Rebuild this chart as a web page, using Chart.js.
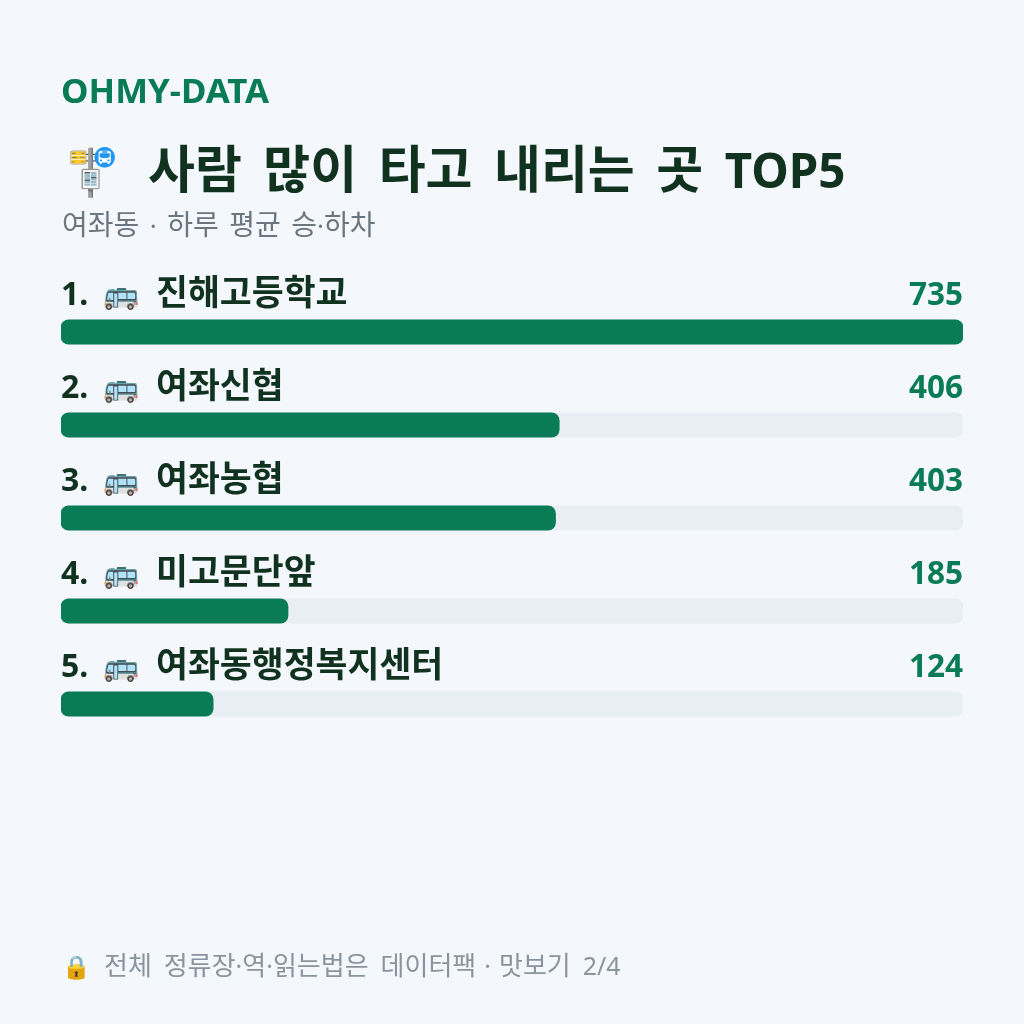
<!DOCTYPE html>
<html><head><meta charset="utf-8">
<script src="https://cdn.jsdelivr.net/npm/chart.js@4"></script>
<style>
html,body{margin:0;padding:0;background:#f4f7fc;}
#wrap{position:absolute;left:0;top:0;width:1024px;height:1024px;}
canvas{display:block;}
</style></head><body>
<div id="wrap"><canvas id="c" width="1024" height="1024"></canvas></div>
<script>
const brand = "OHMY-DATA";
const titleIcon = "🚏";
const title = "사람 많이 타고 내리는 곳 TOP5";
const subtitle = "여좌동 · 하루 평균 승·하차";
const footerIcon = "🔒";
const footer = "전체 정류장·역·읽는법은 데이터팩 · 맛보기 2/4";
const ranks = ["1.","2.","3.","4.","5."];
const rowIcon = "🚌";
const categories = ["진해고등학교","여좌신협","여좌농협","미고문단앞","여좌동행정복지센터"];
const values = [735,406,403,185,124];
const axisMax = 735;

const HANGUL = '"Noto Sans CJK KR",sans-serif';
const LATIN = '"Noto Sans",sans-serif';

// Writes mixed text, giving Hangul and Latin runs their own font size and fixed word gaps.
// A gap that touches a lone middle dot uses dotSpace.
function drawMixed(ctx, text, x, y, o){
  const parts = text.match(/[\uAC00-\uD7A3]+|[^\uAC00-\uD7A3\s]+|\s+/g) || [];
  ctx.textAlign = 'left';
  parts.forEach((p,i)=>{
    if (/^\s+$/.test(p)){
      const byDot = parts[i-1]==='·' || parts[i+1]==='·';
      x += byDot && o.dotSpace ? o.dotSpace : o.space;
      return;
    }
    const hangul = /[\uAC00-\uD7A3]/.test(p);
    ctx.font = o.weight+' '+(hangul ? o.hangulSize : o.latinSize)+'px '+(hangul ? HANGUL : LATIN);
    ctx.fillText(p, x, y);
    x += ctx.measureText(p).width;
  });
  return x;
}

// Rank, icon, stop name and count above each bar, aligned to the bar's own position.
const rowLabels = {
  id:'rowLabels',
  afterDatasetsDraw(chart){
    const {ctx,chartArea:a} = chart;
    ctx.save();
    ctx.textBaseline='alphabetic';
    chart.getDatasetMeta(0).data.forEach((bar,i)=>{
      const y = bar.y - 27.5;
      ctx.fillStyle='#10321f';
      ctx.textAlign='left';
      ctx.font='700 32px '+LATIN;
      ctx.fillText(ranks[i], a.left, y);
      ctx.font='29px '+LATIN;
      ctx.fillText(rowIcon, a.left+42, y-1);
      drawMixed(ctx, categories[i], a.left+95, y, {weight:700,hangulSize:34.7,latinSize:31,space:9});
      ctx.fillStyle='#0a7c55';
      ctx.textAlign='right';
      ctx.font='700 31.5px '+LATIN;
      ctx.fillText(String(values[i]), a.right, y);
    });
    ctx.restore();
  }
};

// Heading block and footer line.
const pageText = {
  id:'pageText',
  afterDraw(chart){
    const {ctx}=chart;
    ctx.save();
    ctx.textBaseline='alphabetic';ctx.textAlign='left';
    ctx.font='700 34.8px '+LATIN;ctx.fillStyle='#0a7c55';ctx.fillText(brand,61,103);
    ctx.fillStyle='#10321f';
    ctx.font='46px '+LATIN;ctx.fillText(titleIcon,64,188);
    drawMixed(ctx,title,148,188,{weight:700,hangulSize:51,latinSize:47.5,space:21.5});
    ctx.fillStyle='#6b7680';
    drawMixed(ctx,subtitle,62,235,{weight:400,hangulSize:28,latinSize:26,space:10.5,dotSpace:10.5});
    ctx.fillStyle='#8a949e';
    ctx.font='23px '+LATIN;ctx.fillText(footerIcon,62,975);
    drawMixed(ctx,footer,104,975,{weight:400,hangulSize:26,latinSize:25,space:12,dotSpace:8});
    ctx.restore();
  }
};

new Chart(document.getElementById('c'),{
  type:'bar',
  data:{labels:categories,datasets:[
    {data:values,backgroundColor:'#0a7c55',borderRadius:8,borderSkipped:false,barThickness:24.5,order:1,grouped:false},
    {data:values.map(()=>axisMax),backgroundColor:'#e9edf4',borderRadius:8,borderSkipped:false,barThickness:24.5,order:2,grouped:false}
  ]},
  plugins:[rowLabels,pageText],
  options:{
    indexAxis:'y',responsive:false,animation:false,
    layout:{padding:{left:61,right:61,top:285.5,bottom:273.5}},
    plugins:{legend:{display:false},tooltip:{enabled:false}},
    scales:{
      x:{display:false,min:0,max:axisMax},
      y:{display:false,offset:true}
    }
  }
});
</script></body></html>
